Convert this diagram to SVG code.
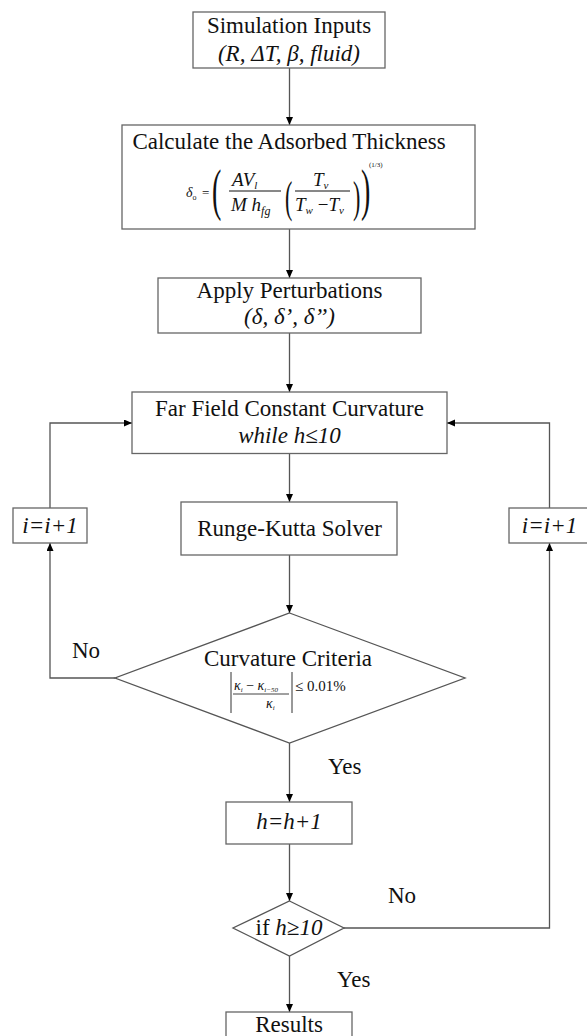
<svg xmlns="http://www.w3.org/2000/svg" width="587" height="1036" viewBox="0 0 587 1036">
<style>
.box{fill:#fff;stroke:#666;stroke-width:1.3}
.ln{fill:none;stroke:#555;stroke-width:1.3}
.t{font-family:"Liberation Serif","Times New Roman",serif;font-size:23px;fill:#111}
.i{font-style:italic}
.f{font-family:"Liberation Serif","Times New Roman",serif;fill:#111;font-style:italic}
.n{font-style:normal}
.m{text-anchor:middle}
</style>
<defs>
<marker id="ah" markerUnits="userSpaceOnUse" markerWidth="9" markerHeight="8" refX="8" refY="3.5" orient="auto">
<path d="M0,0 L8,3.5 L0,7 z" fill="#000"/>
</marker>
</defs>
<rect width="587" height="1036" fill="#fff"/>
<g id="connectors">
<path class="ln" d="M289.5,68 V125" marker-end="url(#ah)"/>
<path class="ln" d="M289.5,229 V278" marker-end="url(#ah)"/>
<path class="ln" d="M289.5,333 V392" marker-end="url(#ah)"/>
<path class="ln" d="M289.5,453.5 V502" marker-end="url(#ah)"/>
<path class="ln" d="M289.5,555 V613" marker-end="url(#ah)"/>
<path class="ln" d="M289.5,743 V802" marker-end="url(#ah)"/>
<path class="ln" d="M289.5,844 V901" marker-end="url(#ah)"/>
<path class="ln" d="M289.5,956 V1012" marker-end="url(#ah)"/>
<path class="ln" d="M115,678 H50 V543" marker-end="url(#ah)"/>
<path class="ln" d="M50,508 V423 H132" marker-end="url(#ah)"/>
<path class="ln" d="M344,928 H549.5 V543" marker-end="url(#ah)"/>
<path class="ln" d="M549.5,508 V423 H447" marker-end="url(#ah)"/>
<text class="t" x="72" y="658">No</text>
<text class="t" x="328" y="774">Yes</text>
<text class="t" x="388" y="903">No</text>
<text class="t" x="337" y="987">Yes</text>
</g>
<g id="inputs">
<rect class="box" x="193" y="12" width="192" height="56"/>
<text class="t m" x="289" y="33">Simulation Inputs</text>
<text class="t m i" x="289" y="61">(R, ΔT, β, fluid)</text>
</g>
<g id="adsorbed">
<rect class="box" x="122" y="125" width="353" height="104"/>
<text class="t m" x="289" y="149">Calculate the Adsorbed Thickness</text>
<text class="f" x="186" y="197" font-size="14">δ<tspan class="n" font-size="8" dy="3">o</tspan></text>
<text class="f n" x="202" y="197" font-size="13">=</text>
<text class="f n" font-size="56" transform="translate(212,209) scale(0.5,1)">(</text>
<text class="f" x="232" y="186" font-size="19">AV<tspan font-size="11" dy="3">l</tspan></text>
<line x1="229" y1="191" x2="281" y2="191" stroke="#111" stroke-width="1"/>
<text class="f" x="231" y="211" font-size="19">M h<tspan font-size="12" dy="4">fg</tspan></text>
<text class="f n" font-size="44" transform="translate(285,212) scale(0.5,1)">(</text>
<text class="f" x="313" y="186" font-size="19">T<tspan font-size="11" dy="3">v</tspan></text>
<line x1="295" y1="191" x2="350" y2="191" stroke="#111" stroke-width="1"/>
<text class="f" x="295" y="211" font-size="19">T<tspan font-size="11" dy="3">w</tspan><tspan class="n" dy="-3"> −</tspan>T<tspan font-size="11" dy="3">v</tspan></text>
<text class="f n" font-size="44" transform="translate(353,212) scale(0.5,1)">)</text>
<text class="f n" font-size="56" transform="translate(361,209) scale(0.5,1)">)</text>
<text class="f n" x="369" y="167" font-size="7">(1/3)</text>
</g>
<g id="perturb">
<rect class="box" x="158" y="278" width="263" height="55"/>
<text class="t m" x="289.5" y="298">Apply Perturbations</text>
<text class="t m i" x="289.5" y="324">(δ, δ’, δ’’)</text>
</g>
<g id="farfield">
<rect class="box" x="132" y="392" width="315" height="61.5"/>
<text class="t m" x="289.5" y="416">Far Field Constant Curvature</text>
<text class="t m i" x="289.5" y="443">while h≤10</text>
</g>
<g id="rk">
<rect class="box" x="181" y="502" width="216" height="53"/>
<text class="t m" x="289.5" y="536">Runge-Kutta Solver</text>
</g>
<g id="criteria">
<polygon class="ln" points="289.5,613 465,678 289.5,743 115,678" fill="#fff"/>
<text class="t m" x="288" y="666">Curvature Criteria</text>
<line x1="231" y1="672" x2="231" y2="713" stroke="#333" stroke-width="1"/>
<line x1="292" y1="672" x2="292" y2="713" stroke="#333" stroke-width="1"/>
<text class="f" x="234" y="690" font-size="14">κ<tspan font-size="7" dy="2">i</tspan><tspan class="n" dy="-2"> − </tspan>κ<tspan font-size="7" dy="2">i−50</tspan></text>
<line x1="233" y1="694" x2="289" y2="694" stroke="#111" stroke-width="0.8"/>
<text class="f" x="266" y="708" font-size="14">κ<tspan font-size="7" dy="2">i</tspan></text>
<text class="f n" x="295" y="691" font-size="15">≤ 0.01%</text>
</g>
<g id="iterL">
<rect class="box" x="13" y="508" width="74" height="35"/>
<text class="t m i" x="50" y="533">i=i+1</text>
</g>
<g id="iterR">
<rect class="box" x="509" y="508" width="82" height="35"/>
<text class="t m i" x="549.5" y="533">i=i+1</text>
</g>
<g id="hinc">
<rect class="box" x="226" y="802" width="126" height="42"/>
<text class="t m i" x="289" y="829">h=h+1</text>
</g>
<g id="hcheck">
<polygon class="ln" points="289.5,901 344,928 289.5,956 233,928" fill="#fff"/>
<text class="t m" x="289" y="935">if <tspan class="i">h≥10</tspan></text>
</g>
<g id="results">
<rect class="box" x="226" y="1012" width="126" height="40"/>
<text class="t m" x="289" y="1032">Results</text>
</g>
</svg>
